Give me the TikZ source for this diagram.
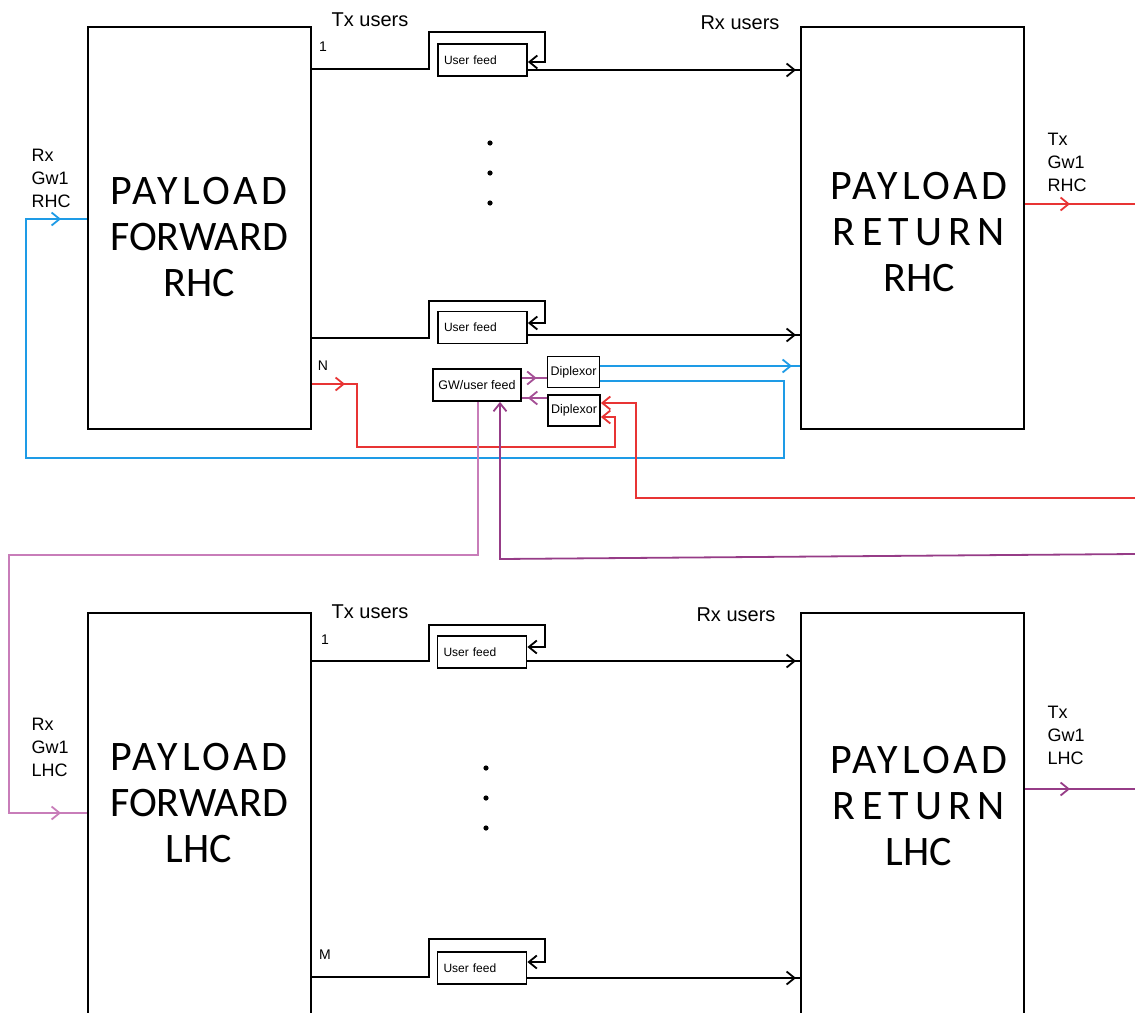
\documentclass[tikz,border=0pt]{standalone}
\usepackage{fontspec}
\setmainfont{Liberation Sans}
\newfontfamily\bigfont{Carlito}
\newfontfamily\bigfontA[LetterSpace=9]{Carlito}
\newfontfamily\bigfontB[LetterSpace=15]{Carlito}
\usetikzlibrary{arrows.meta,positioning,calc,decorations.markings}

\definecolor{gwblue}{RGB}{30,155,230}
\definecolor{gwred}{RGB}{232,52,52}
\definecolor{lpurple}{RGB}{200,125,185}
\definecolor{dpurple}{RGB}{150,60,135}
\definecolor{mpurple}{RGB}{165,80,150}

\tikzset{
  opn/.tip={Straight Barb[length=8pt,width=13pt]},
  midarr/.style={postaction={decorate},decoration={markings,mark=at position #1 with {\arrow{opn}}}},
}

\begin{document}
\begin{tikzpicture}[x=1pt,y=-1pt,
    box/.style={draw,line width=2pt,minimum width=223pt,minimum height=402pt,inner sep=0pt},
    feed/.style={draw,line width=1.8pt,minimum width=89pt,minimum height=32pt,text width=77pt,inner xsep=6pt,inner ysep=0pt,align=left,font=\fontsize{12}{14}\selectfont},
    gwbox/.style={draw,line width=1.8pt,minimum width=88pt,minimum height=32pt,inner sep=0pt,font=\fontsize{12.5}{14}\selectfont},
    dip/.style={draw,line width=1.8pt,minimum width=52pt,minimum height=31pt,inner sep=0pt,font=\fontsize{12.5}{14}\selectfont},
    big/.style={align=center,font=\bigfont\fontsize{42}{46}\selectfont},
    lbl/.style={align=left,anchor=west,font=\fontsize{18}{23}\selectfont},
    hdr/.style={font=\fontsize{20}{22}\selectfont},
    num/.style={font=\fontsize{14}{16}\selectfont},
    link/.style={line width=1.8pt}]
    \useasboundingbox (0,0) rectangle (1135,1012);
    \clip (0,0) rectangle (1135,1012);

    % payload boxes
    \node[box] (fwdR) at (199.5,228) {};
    \node[box] (retR) at (912.5,228) {};
    \node[box] (fwdL) at (199.5,814) {};
    \node[box] (retL) at (912.5,814) {};
    \node[big] (fwdRt) at (199,237) {{\bigfontA PAYLOAD}\\FORWARD\\RHC};
    \node[big] (retRt) at (919,232) {{\bigfontA PAYLOAD}\\{\bigfontB RETURN}\\RHC};
    \node[big] (fwdLt) at (199,803) {{\bigfontA PAYLOAD}\\FORWARD\\LHC};
    \node[big] (retLt) at (919,806) {{\bigfontA PAYLOAD}\\{\bigfontB RETURN}\\LHC};

    % user feeds
    \node[feed] (uf1) at (482.5,60) {User feed};
    \node[feed] (uf2) at (482.5,327.5) {User feed};
    \node[feed] (uf3) at (482,652) {User feed};
    \node[feed] (uf4) at (482,968) {User feed};
    \node[gwbox] (gw) at (477,385) {GW/user feed};
    \node[dip] (dip1) at (573.5,372) {Diplexor};
    \node[dip] (dip2) at (574,410.5) {Diplexor};

    % labels
    \node[hdr] (txR) at (370,20) {Tx users};
    \node[hdr] (rxR) at (740,23) {Rx users};
    \node[hdr] (txL) at (370,612) {Tx users};
    \node[hdr] (rxL) at (736,615) {Rx users};
    \node[num] (n1R) at (323,47) {1};
    \node[num] (nN) at (323,366) {N};
    \node[num] (n1L) at (325,640) {1};
    \node[num] (nM) at (325,955) {M};
    \node[lbl] (rxgwR) at (28,178) {Rx\\Gw1\\RHC};
    \node[lbl] (txgwR) at (1044,162) {Tx\\Gw1\\RHC};
    \node[lbl] (rxgwL) at (28,747) {Rx\\Gw1\\LHC};
    \node[lbl] (txgwL) at (1044,735) {Tx\\Gw1\\LHC};

    \foreach \y in {143,173,203} {\fill (490,\y) circle (2.6pt);}
    \foreach \y in {768,798,828} {\fill (486,\y) circle (2.6pt);}

    % user links
    \foreach \src/\f/\ly/\ty/\ay/\oy/\dst in {fwdR/uf1/69/32/62/70/retR, fwdR/uf2/338/301/323/335/retR, fwdL/uf3/661/625/647/661/retL, fwdL/uf4/977/939/962/978/retL} {
        \draw[link,-opn] (\src.east |- 0,\ly) -| (429,\ty) -| (545,\ay) -- (\f.east |- 0,\ay);
        \draw[link,midarr=-4pt] (\f.east |- 0,\oy) -- (\dst.west |- 0,\oy);
    }

    % gateway links
    \coordinate (redin) at (1135,498);
    \coordinate (redout) at (1135,204);
    \coordinate (purin) at (1135,554);
    \coordinate (purout) at (1135,789);
    \draw[link,mpurple,midarr=-10pt] (gw.east |- 0,378) -- (dip1.west |- 0,378);
    \draw[link,mpurple,midarr=-6pt] (dip2.west |- 0,398) -- (gw.east |- 0,398);
    \draw[link,gwblue,midarr=-8pt] (dip1.east |- 0,366) -- (retR.west |- 0,366);
    \draw[link,gwblue,midarr=-26pt] (dip1.east |- 0,381) -| (784,458) -| (26,219) -- (fwdR.west |- 0,219);
    \draw[link,gwred,-opn,midarr=33pt] (fwdR.east |- 0,384) -| (357,447) -| (615,417) -- (dip2.east |- 0,417);
    \draw[link,gwred,-opn] (redin) -| (636,403) -- (dip2.east |- 0,403);
    \draw[link,gwred,midarr=-65pt] (retR.east |- 0,204) -- (redout);
    \draw[link,lpurple,midarr=-26pt] (gw.south -| 478,0) -- (478,555) -| (9,813) -- (fwdL.west |- 0,813);
    \draw[link,dpurple,-opn] (purin) -- (500,559) -- (gw.south -| 500,0);
    \draw[link,dpurple,midarr=-65pt] (retL.east |- 0,789) -- (purout);
\end{tikzpicture}
\end{document}
